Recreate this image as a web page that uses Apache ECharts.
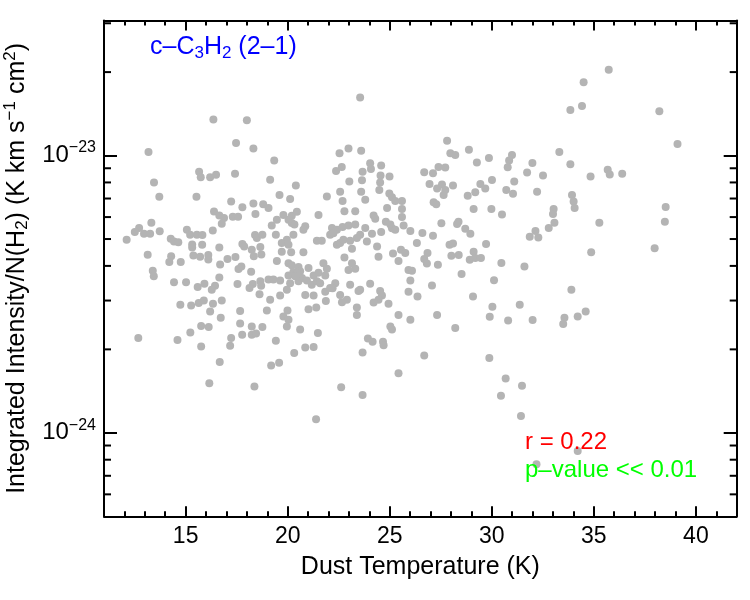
<!DOCTYPE html>
<html><head><meta charset="utf-8">
<script src="https://cdn.jsdelivr.net/npm/echarts@6/dist/echarts.min.js"></script>
<style>html,body{margin:0;padding:0;background:#fff}#c{width:750px;height:600px}</style>
</head><body><div id="c"></div>
<script>
const dustTemp = [
16.36,18.0,17.47,18.32,13.18,15.66,15.74,16.2,16.49,17.42,13.45,
23.55,19.34,19.14,20.4,22.54,22.98,23.6,24.04,24.08,24.58,22.65,22.37,23.67,24.55,24.99,23.02,23.64,24.53,
33.85,27.81,27.97,28.21,28.88,33.31,29.27,29.86,30.99,30.85,31.99,33.85,30.78,27.39,27.72,26.69,27.12,31.73,32.51,30.01,31.1,29.44,26.95,27.56,28.1,
35.73,34.5,34.42,38.21,39.1,35.68,35.78,36.39,34.84,
13.71,15.53,17.23,17.78,18.32,18.8,16.39,16.65,16.88,17.31,17.57,18.42,16.77,13.32,12.72,12.51,12.96,13.26,13.73,12.11,
15.06,15.22,15.55,15.82,16.33,14.27,14.43,14.64,15.32,15.32,15.81,16.65,17.78,17.87,18.4,18.49,18.76,18.24,18.66,
13.14,14.29,14.2,14.76,15.38,15.71,16.11,16.11,16.69,17.05,17.44,18.34,18.71,17.59,17.73,18.21,13.39,13.44,16.65,
14.43,15.02,15.59,15.92,16.44,16.28,17.54,18.29,18.13,18.66,18.7,18.62,14.74,15.27,15.64,15.89,16.34,16.77,16.2,17.67,16.72,
15.76,16.13,17.67,18.24,18.76,15.23,17.77,18.24,18.45,12.68,14.6,17.23,15.76,17.18,16.67,16.16,18.37,
24.49,22.57,23.6,21.92,22.69,23.8,19.6,20.12,19.06,19.79,20.2,20.45,21.51,22.78,23.31,24.21,24.29,24.87,24.98,25.11,25.27,25.6,25.6,25.6,
24.81,25.03,25.11,25.27,25.68,19.22,19.47,20.04,20.2,20.33,20.86,20.77,22.17,22.41,22.69,22.98,23.31,22.08,22.24,23.8,23.55,23.39,24.13,24.58,26.01,
19.42,19.96,19.71,20.28,20.04,21.43,21.67,22.41,22.57,22.73,23.06,23.88,26.33,19.71,20.17,20.77,23.15,24.38,25.16,25.55,25.76,
19.47,20.04,20.2,20.28,20.53,20.61,20.45,21.02,21.27,21.51,21.75,21.92,21.84,22.78,23.15,23.31,22.98,24.45,25.43,25.92,26.09,
19.06,19.3,19.63,20.04,20.12,20.53,20.7,20.94,20.37,21.18,21.43,21.59,22.33,22.2,23.06,23.55,24.04,24.53,24.62,24.45,24.21,24.94,25.92,26.01,26.36,
19.14,19.63,19.96,20.86,21.27,21.84,22.08,22.57,22.9,23.47,21.02,21.4,21.87,22.66,23.39,23.39,18.98,19.99,19.79,20.04,25.43,26.01,
20.61,21.48,19.96,25.03,25.11,19.42,23.93,24.16,19.19,19.58,20.32,20.86,21.27,21.39,22.62,23.67,23.67,24.67,24.7,25.43,
27.32,27.72,27.64,27.15,27.28,28.82,29.19,29.68,30.71,31.04,32.22,33.93,34.01,34.06,29.11,29.98,30.5,33.03,33.0,33.07,32.79,32.14,31.86,32.28,
26.6,27.12,27.53,28.37,28.3,28.7,28.95,27.93,28.1,29.72,26.85,26.69,26.82,28.02,28.38,29.11,28.92,29.19,29.47,27.36,30.47,31.6,28.52,30.11,27.07,29.08,
33.9,30.03,29.9,31.37,27.32,30.8,32.0,33.56,33.5,28.21,26.69,29.88,30.68,31.48,30.45,31.43,32.19,34.21,
38.52,38.48,35.27,37.98,34.87,34.21,34.6
];
const intensity = [
13.5e-24,13.4e-24,11.1e-24,10.6e-24,10.3e-24,8.75e-24,8.36e-24,8.36e-24,8.52e-24,8.6e-24,8.0e-24,
16.2e-24,9.6e-24,8.18e-24,7.8e-24,10.2e-24,10.6e-24,10.4e-24,9.39e-24,8.95e-24,9.2e-24,9.1e-24,8.8e-24,8.75e-24,8.47e-24,8.4e-24,8.07e-24,8.14e-24,8.0e-24,
14.6e-24,11.3e-24,10.2e-24,10.05e-24,10.5e-24,10.3e-24,9.44e-24,9.8e-24,10.05e-24,9.6e-24,9.4e-24,9.3e-24,9.07e-24,9.1e-24,9.05e-24,8.7e-24,8.64e-24,8.68e-24,8.47e-24,8.16e-24,8.07e-24,7.9e-24,7.9e-24,7.87e-24,7.8e-24,
20.4e-24,18.4e-24,15.1e-24,14.45e-24,11.0e-24,8.88e-24,8.55e-24,8.6e-24,8.4e-24,
7.1e-24,7.1e-24,6.83e-24,6.51e-24,6.71e-24,6.67e-24,6.28e-24,6.08e-24,5.96e-24,6.02e-24,6.02e-24,6.15e-24,5.68e-24,5.72e-24,5.48e-24,5.3e-24,5.22e-24,5.22e-24,5.33e-24,4.97e-24,
5.4e-24,5.18e-24,5.18e-24,5.17e-24,5.37e-24,5.01e-24,4.9e-24,4.87e-24,4.78e-24,4.66e-24,4.77e-24,4.66e-24,4.8e-24,4.7e-24,5.17e-24,5.04e-24,5.18e-24,4.57e-24,4.68e-24,
4.39e-24,4.33e-24,4.13e-24,4.13e-24,4.36e-24,4.32e-24,4.38e-24,4.22e-24,4.05e-24,4.24e-24,4.31e-24,4.33e-24,4.4e-24,3.9e-24,3.98e-24,3.81e-24,3.84e-24,3.67e-24,3.63e-24,
3.49e-24,3.49e-24,3.36e-24,3.45e-24,3.39e-24,3.28e-24,3.44e-24,3.44e-24,3.33e-24,3.52e-24,3.39e-24,3.16e-24,2.9e-24,2.88e-24,2.94e-24,3.0e-24,2.92e-24,3.0e-24,2.74e-24,2.75e-24,2.6e-24,
2.43e-24,2.41e-24,2.48e-24,2.42e-24,2.41e-24,2.3e-24,2.26e-24,2.26e-24,2.28e-24,2.2e-24,2.16e-24,2.2e-24,2.05e-24,2.06e-24,1.8e-24,1.51e-24,1.47e-24,
7.52e-24,7.4e-24,7.4e-24,7.12e-24,6.86e-24,6.93e-24,7.2e-24,6.97e-24,6.47e-24,6.1e-24,6.07e-24,6.27e-24,6.1e-24,6.3e-24,6.3e-24,6.08e-24,5.92e-24,6.47e-24,7.3e-24,7.08e-24,6.86e-24,6.86e-24,6.42e-24,6.0e-24,
5.77e-24,5.64e-24,5.47e-24,5.4e-24,5.6e-24,5.6e-24,5.87e-24,5.87e-24,5.71e-24,5.64e-24,5.56e-24,5.4e-24,5.48e-24,5.4e-24,5.53e-24,5.6e-24,5.64e-24,5.18e-24,5.25e-24,5.48e-24,5.18e-24,5.04e-24,5.22e-24,5.3e-24,5.35e-24,
5.18e-24,4.97e-24,4.84e-24,5.18e-24,4.77e-24,4.93e-24,4.93e-24,4.77e-24,4.84e-24,4.97e-24,4.93e-24,4.9e-24,4.84e-24,4.5e-24,4.48e-24,4.48e-24,4.61e-24,4.7e-24,4.43e-24,4.57e-24,4.45e-24,
4.17e-24,4.09e-24,4.02e-24,3.8e-24,3.96e-24,3.83e-24,3.76e-24,3.93e-24,3.69e-24,3.78e-24,4.09e-24,3.91e-24,3.69e-24,4.29e-24,4.09e-24,3.91e-24,3.87e-24,4.32e-24,4.17e-24,3.87e-24,3.84e-24,
3.57e-24,3.57e-24,3.54e-24,3.69e-24,3.46e-24,3.52e-24,3.62e-24,3.54e-24,3.67e-24,3.42e-24,3.52e-24,3.46e-24,3.46e-24,3.32e-24,3.42e-24,3.28e-24,3.45e-24,3.25e-24,3.13e-24,3.02e-24,2.95e-24,2.92e-24,3.23e-24,3.54e-24,3.1e-24,
3.02e-24,3.13e-24,3.28e-24,3.14e-24,3.13e-24,3.23e-24,3.33e-24,3.14e-24,3.02e-24,3.25e-24,2.79e-24,2.83e-24,2.99e-24,2.96e-24,2.83e-24,2.66e-24,2.76e-24,2.76e-24,2.63e-24,2.56e-24,2.66e-24,2.56e-24,
2.36e-24,2.29e-24,2.42e-24,2.42e-24,2.36e-24,2.15e-24,2.19e-24,2.13e-24,1.75e-24,1.79e-24,1.94e-24,2.03e-24,2.04e-24,1.12e-24,1.46e-24,1.37e-24,1.95e-24,2.13e-24,2.07e-24,1.64e-24,
7.6e-24,7.52e-24,7.2e-24,6.79e-24,6.67e-24,7.16e-24,7.38e-24,7.6e-24,7.52e-24,7.28e-24,7.4e-24,7.2e-24,6.83e-24,6.47e-24,6.42e-24,6.42e-24,6.13e-24,6.42e-24,6.15e-24,5.72e-24,5.48e-24,5.35e-24,5.1e-24,5.06e-24,
5.26e-24,5.14e-24,5.7e-24,5.77e-24,5.66e-24,5.45e-24,5.22e-24,4.77e-24,4.82e-24,4.8e-24,4.45e-24,4.24e-24,4.08e-24,4.35e-24,4.38e-24,4.5e-24,4.21e-24,4.27e-24,4.27e-24,4.04e-24,4.1e-24,3.98e-24,3.74e-24,3.55e-24,3.4e-24,3.1e-24,
3.28e-24,2.85e-24,2.62e-24,2.9e-24,2.66e-24,2.54e-24,2.55e-24,2.6e-24,2.47e-24,2.39e-24,1.9e-24,1.86e-24,1.57e-24,1.48e-24,1.36e-24,1.15e-24,0.77e-24,0.86e-24,
6.53e-24,5.77e-24,5.72e-24,4.63e-24,4.48e-24,2.63e-24,2.74e-24
];
const xRange = [11, 42];
const yRange = [5e-25, 3.07e-23];
const xMajorTicks = [15, 20, 25, 30, 35, 40];
const yMinorTicks = [6e-25, 7e-25, 8e-25, 9e-25, 2e-24, 3e-24, 4e-24, 5e-24, 6e-24, 7e-24, 8e-24, 9e-24, 2e-23, 3e-23];
const moleculeLabel = '{a|c–C}{s|3}{a|H}{s|2}{a| (2–1)}';
const corrText = 'r = 0.22';
const pText = 'p–value << 0.01';

// ECharts' log scale rounds to 20 decimals, so the y axis works in units of 1e-24;
// labels convert back to the true powers of ten.
const Y_UNIT_EXP = -24;
const Y_UNIT = Math.pow(10, Y_UNIT_EXP);
const toAxis = v => v / Y_UNIT;

const FONT = '"Liberation Sans", Arial, Helvetica, sans-serif';
const FX = 23;   // x tick labels
const FY = 24;   // y tick labels (mantissa)
const FT = 25;   // titles
const FA = 24;   // annotations
const lineStyle = {color: '#000', width: 2};
const data = dustTemp.map((t, i) => [t, toAxis(intensity[i])]);

function isDecade(v) {
  const l = Math.log10(v);
  return Math.abs(l - Math.round(l)) < 1e-6;
}
function xAx(pos, major, withLine) {
  const o = {
    type: 'value', position: pos, min: xRange[0], max: xRange[1], interval: 1,
    axisLine: {show: withLine, onZero: false, lineStyle},
    axisTick: {show: true, inside: true, length: major ? 10 : 5, lineStyle},
    axisLabel: {show: false}, splitLine: {show: false}
  };
  if (major) o.axisTick.customValues = xMajorTicks;
  return o;
}
function yAx(pos) {
  return {
    type: 'log', logBase: 10, position: pos, min: toAxis(yRange[0]), max: toAxis(yRange[1]),
    axisLine: {show: true, onZero: false, lineStyle},
    axisTick: {show: true, inside: true, length: 13, lineStyle},
    axisLabel: {show: false}, splitLine: {show: false}
  };
}

const xMain = xAx('bottom', false, true);
xMain.axisLabel = {show: true, customValues: xMajorTicks, color: '#000', fontSize: FX, fontFamily: FONT, margin: 9};
xMain.name = 'Dust Temperature (K)';
xMain.nameLocation = 'middle';
xMain.nameGap = 38;
xMain.nameTextStyle = {color: '#000', fontSize: FT, fontFamily: FONT};

const yMain = yAx('left');
yMain.axisLabel = {
  show: true, margin: 8,
  formatter: v => {
    if (!isDecade(v)) return '';
    const e = Math.round(Math.log10(v)) + Y_UNIT_EXP;
    return '{b|10}{s|' + (e < 0 ? '−' : '') + Math.abs(e) + '}';
  },
  rich: {
    b: {fontSize: FY, fontFamily: FONT, color: '#000'},
    s: {fontSize: 16, fontFamily: FONT, color: '#000', padding: [0, 0, 15, 0]}
  }
};
yMain.name = '{a|Integrated Intensity/N(H}{sub|2}{a|) (K km s}{sup|−1}{a| cm}{sup|2}{a|)}';
yMain.nameLocation = 'middle';
yMain.nameRotate = 90;
yMain.nameGap = 68;
yMain.nameTextStyle = {
  color: '#000', fontSize: FT, fontFamily: FONT,
  rich: {
    a: {fontSize: FT, fontFamily: FONT, color: '#000'},
    sub: {fontSize: 17, fontFamily: FONT, color: '#000', padding: [11, 0, 0, 0]},
    sup: {fontSize: 17, fontFamily: FONT, color: '#000', padding: [0, 0, 13, 0]}
  }
};

const option = {
  backgroundColor: '#fff',
  animation: false,
  grid: {left: 104, right: 13.3, top: 20.5, bottom: 83.7, containLabel: false, outerBoundsMode: 'none'},
  xAxis: [xMain, xAx('bottom', true, false), xAx('top', false, true), xAx('top', true, false)],
  yAxis: [yMain, yAx('right')],
  series: [
    {
      type: 'scatter', xAxisIndex: 0, yAxisIndex: 0, data,
      symbol: 'circle', symbolSize: 8,
      itemStyle: {color: '#b4b4b4', opacity: 1}
    },
    {
      type: 'custom', xAxisIndex: 0, yAxisIndex: 0, silent: true, clip: false,
      data: yMinorTicks.map(v => [xRange[0], toAxis(v)]),
      renderItem: (params, api) => {
        const p = api.coord([api.value(0), api.value(1)]);
        const cs = params.coordSys;
        const st = {stroke: '#000', lineWidth: 2};
        return {type: 'group', children: [
          {type: 'line', shape: {x1: cs.x, y1: p[1], x2: cs.x + 7, y2: p[1]}, style: st},
          {type: 'line', shape: {x1: cs.x + cs.width, y1: p[1], x2: cs.x + cs.width - 7, y2: p[1]}, style: st}
        ]};
      }
    }
  ],
  graphic: [
    {type: 'text', left: 150, top: 35, z: 10, style: {
      text: moleculeLabel, fill: '#0000ff',
      rich: {
        a: {fontSize: FT, fontFamily: FONT, fill: '#0000ff'},
        s: {fontSize: 17, fontFamily: FONT, fill: '#0000ff', padding: [12, 0, 0, 0]}
      }}},
    {type: 'text', left: 525, top: 430, z: 10, style: {text: corrText, fill: '#ff0000', fontSize: FA, fontFamily: FONT}},
    {type: 'text', left: 525, top: 458, z: 10, style: {text: pText, fill: '#00ff00', fontSize: FA, fontFamily: FONT}}
  ]
};
const chart = echarts.init(document.getElementById('c'), null, {renderer: 'canvas'});
chart.setOption(option);
</script></body></html>
